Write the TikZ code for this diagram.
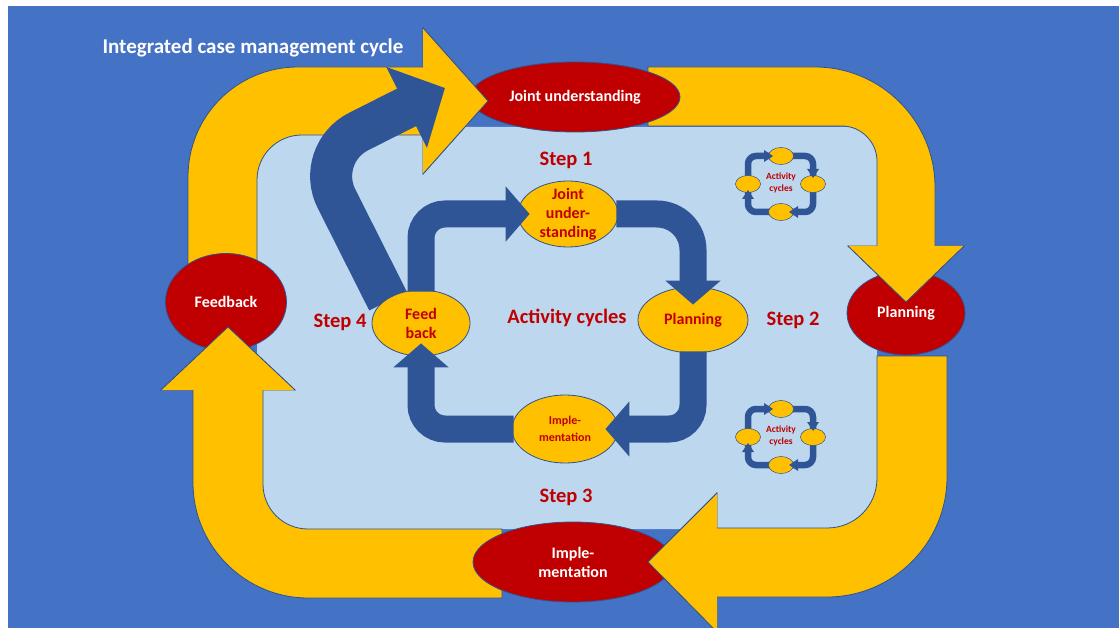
\documentclass[tikz,border=0pt]{standalone}
\usepackage{fontspec}
\setmainfont{Carlito}
\definecolor{SlideBlue}{RGB}{68,114,196}
\definecolor{PaleBlue} {RGB}{189,215,238}
\definecolor{ArmYellow}{RGB}{255,192,0}
\definecolor{OvalRed}  {RGB}{192,0,0}
\definecolor{LoopBlue} {RGB}{47,85,151}
\definecolor{EdgeBlue} {RGB}{47,82,143}
\usetikzlibrary{arrows.meta,shapes.geometric}

\begin{document}
\begin{tikzpicture}[x=1pt,y=-1pt,
  bigoval/.style={ellipse,draw=EdgeBlue,line width=0.8pt,fill=OvalRed,text=white,
    font=\fontsize{16}{19}\selectfont\bfseries,inner sep=-6pt,align=center},
  smalloval/.style={ellipse,draw=EdgeBlue,line width=0.8pt,fill=ArmYellow,text=OvalRed,
    font=\fontsize{16}{19}\selectfont\bfseries,inner sep=-6pt,align=center},
  arm/.style={fill=ArmYellow,draw=EdgeBlue,line width=0.8pt},
  looparrow/.style={draw=LoopBlue,line width=27pt,rounded corners=24pt,
    -{Triangle[length=24pt,width=54pt]}},
  steplabel/.style={text=OvalRed,font=\fontsize{20.5}{24}\selectfont\bfseries},
  minilabel/.style={text=OvalRed,font=\fontsize{9.5}{11.5}\selectfont\bfseries,align=center}]
  \useasboundingbox (0,0) rectangle (1119,628);
  % Slide background
  \fill[white] (0,0) rectangle (1119,628);
  \fill[SlideBlue] (8,6) rectangle (1119,628);
  \fill[PaleBlue,rounded corners=30pt] (257,127) rectangle (877,529);
  % Outer arms (yellow)
  \path[arm] (188,290) -- (188,177) .. controls (188,116) and (237,67) .. (298,67)
    -- (423,67) -- (423,28) -- (488,101) -- (423,174) -- (423,135) -- (302,135)
    .. controls (277,135) and (257,155) .. (257,180) -- (257,290) -- cycle;
  \path[arm] (648,67) -- (815,67) .. controls (881,67) and (935,121) .. (935,187)
    -- (935,246) -- (964,246) -- (906,302) -- (848,246) -- (877,246) -- (877,161)
    .. controls (877,142) and (861,126) .. (842,126) -- (648,126) -- cycle;
  \path[arm] (877,356) -- (947,356) -- (947,477) .. controls (947,543) and (893,597) .. (827,597)
    -- (717,597) -- (717,632) -- (648,562) -- (717,493) -- (717,528) -- (827,528)
    .. controls (855,528) and (877,506) .. (877,478) -- cycle;
  \path[arm] (502,529) -- (502,598) -- (308,598) .. controls (245,598) and (193,546) .. (193,483)
    -- (193,390) -- (161,390) -- (228,327) -- (295,390) -- (263,390) -- (263,484)
    .. controls (263,509) and (283,529) .. (308,529) -- cycle;
  % Outer steps
  \node[bigoval,minimum width=210pt,minimum height=70pt] (jointbig) at (575,97) {Joint understanding};
  \node[bigoval,minimum width=118pt,minimum height=84pt] (planbig) at (906,313) {Planning};
  \node[bigoval,minimum width=200pt,minimum height=80pt] (implbig) at (573,562) {Imple-\\mentation};
  \node[bigoval,minimum width=121pt,minimum height=97pt] (feedbig) at (226,302) {Feedback};
  % Arm heads over the ovals
  \path[arm] (423,28) -- (488,101) -- (423,174);
  \path[arm] (964,246) -- (906,302) -- (848,246);
  \path[arm] (717,632) -- (648,562) -- (717,493);
  \path[arm] (161,390) -- (228,327) -- (295,390);
  % Feedback loop back to joint understanding
  \coordinate (loopstart) at (388,301);
  \coordinate (loopbend) at (314,154);
  \coordinate (looptip) at (445,88);
  \draw[LoopBlue,line width=42pt,rounded corners=50pt,-{Triangle[length=43pt,width=88pt]}]
    (loopstart) -- (loopbend) -- (looptip);
  % Activity cycle
  \node[smalloval,minimum width=100pt,minimum height=66pt] (jointsm) at (568,214) {Joint\\under-\\standing};
  \node[smalloval,minimum width=110pt,minimum height=66pt] (plansm) at (693,320) {Planning};
  \node[smalloval,minimum width=106pt,minimum height=68pt,
    font=\fontsize{12}{17}\selectfont\bfseries] (implsm) at (565,429) {Imple-\\mentation};
  \node[smalloval,minimum width=98pt,minimum height=66pt] (feedsm) at (421,323) {Feed\\back};
  \draw[looparrow] ([yshift=-2pt]feedsm.north) |- ([xshift=12pt]jointsm.west);
  \draw[looparrow,rounded corners=36pt] ([xshift=-2pt]jointsm.east) -| ([yshift=-18pt]plansm.north);
  \draw[looparrow] ([yshift=2pt]plansm.south) |- ([xshift=-13pt]implsm.east);
  \draw[looparrow] ([xshift=2pt]implsm.west) -| ([yshift=13pt]feedsm.south);
  % Labels
  \node[anchor=west,text=white,font=\fontsize{21}{25}\selectfont\bfseries] (title) at (99,48)
    {Integrated case management cycle};
  \node[steplabel] (step1) at (566,160) {Step 1};
  \node[steplabel] (step2) at (793,320) {Step 2};
  \node[steplabel] (step3) at (566,497) {Step 3};
  \node[steplabel] (step4) at (340,322) {Step 4};
  \node[steplabel] (cycles) at (567,318) {Activity cycles};
  % Small activity cycles
  \foreach \cy [count=\k] in {184,437}{
    \draw[LoopBlue,line width=6.5pt,rounded corners=8pt] (748,{\cy-28}) rectangle (813,{\cy+28});
    \filldraw[fill=ArmYellow,draw=EdgeBlue,line width=0.5pt]
      (781,{\cy-28}) ellipse [x radius=12.5pt,y radius=8.5pt]
      (813,\cy) ellipse [x radius=12.5pt,y radius=8.5pt]
      (781,{\cy+28}) ellipse [x radius=12.5pt,y radius=8.5pt]
      (748,\cy) ellipse [x radius=12.5pt,y radius=8.5pt];
    \fill[LoopBlue] (764,{\cy-34}) -- (773,{\cy-28}) -- (764,{\cy-22}) -- cycle;
    \fill[LoopBlue] (807,{\cy-15}) -- (813,{\cy-6}) -- (819,{\cy-15}) -- cycle;
    \fill[LoopBlue] (798,{\cy+22}) -- (789,{\cy+28}) -- (798,{\cy+34}) -- cycle;
    \fill[LoopBlue] (742,{\cy+15}) -- (748,{\cy+6}) -- (754,{\cy+15}) -- cycle;
    \node[minilabel] (mini\k) at (781,{\cy-1}) {Activity\\cycles};
  }
\end{tikzpicture}
\end{document}
